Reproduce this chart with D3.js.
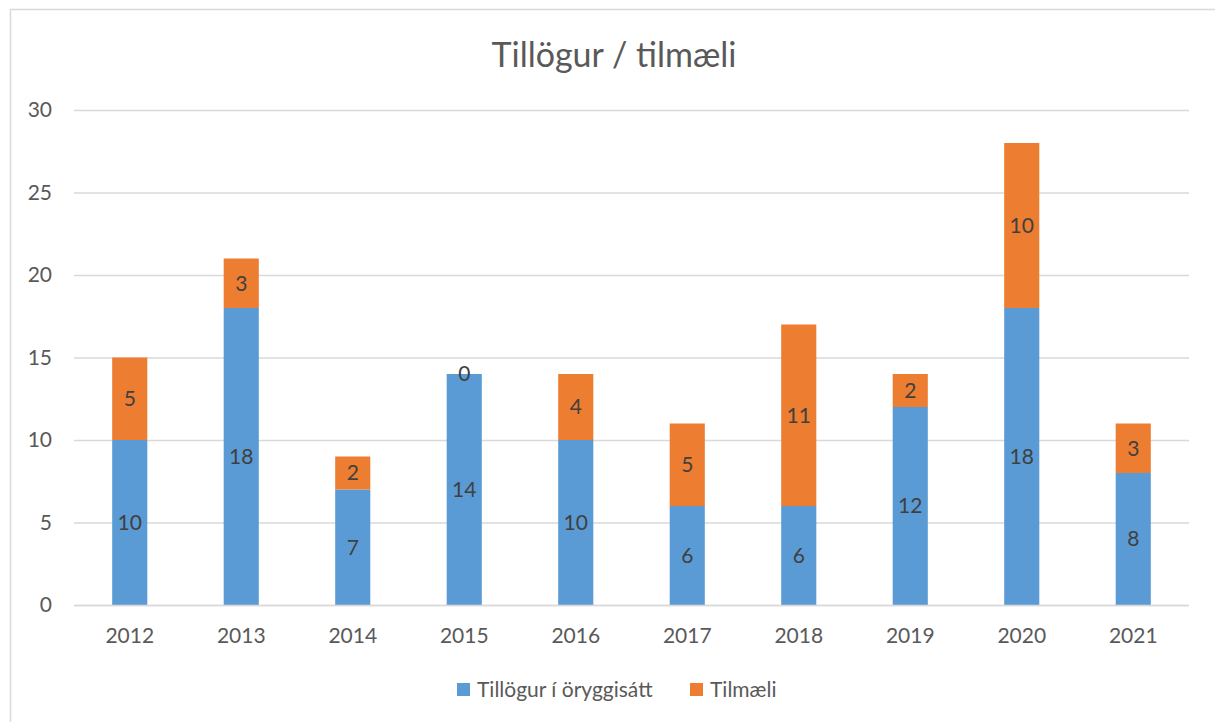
<!DOCTYPE html>
<html><head><meta charset="utf-8">
<script src="https://cdn.jsdelivr.net/npm/d3@7"></script>
<style>body{margin:0;background:#fff;}svg{display:block;}</style>
</head><body>
<svg id="c" width="1215" height="722"></svg>
<script>
const years = ["2012","2013","2014","2015","2016","2017","2018","2019","2020","2021"];
const tillogur = [10,18,7,14,10,6,6,12,18,8];
const tilmaeli = [5,3,2,0,4,5,11,2,10,3];
const seriesNames = ["Tillögur í öryggisátt","Tilmæli"];
const colors = ["#5B9BD5","#ED7D31"];
const yTicks = [0,5,10,15,20,25,30];

const svg = d3.select("#c");
const font = "Lato, 'Open Sans', sans-serif";
svg.append("rect").attr("x",10.5).attr("y",9.5).attr("width",1215).attr("height",720)
  .attr("fill","#fff").attr("stroke","#D9D9D9").attr("stroke-width",1.5);

const x = d3.scaleBand().domain(years).range([74,1189]).paddingInner(0.685).paddingOuter(0.3425);
const y = d3.scaleLinear().domain([0,30]).range([605,110]);

const g = svg.append("g");
g.selectAll(".grid").data(yTicks).join("line")
  .attr("x1",74).attr("x2",1189).attr("y1",d=>y(d)+0.5).attr("y2",d=>y(d)+0.5)
  .attr("stroke","#D9D9D9").attr("stroke-width",1.3);

g.selectAll(".ylab").data(yTicks).join("text")
  .attr("x",52).attr("y",d=>y(d)).attr("dy","0.35em").attr("text-anchor","end")
  .attr("font-family",font).attr("font-size",21).attr("fill","#595959").text(d=>d);

const stacked = years.map((yr,i)=>({yr, a:tillogur[i], b:tilmaeli[i]}));
g.selectAll(".ba").data(stacked).join("rect")
  .attr("x",d=>x(d.yr)).attr("width",x.bandwidth())
  .attr("y",d=>y(d.a)).attr("height",d=>y(0)-y(d.a)).attr("fill",colors[0]);
g.selectAll(".bb").data(stacked).join("rect")
  .attr("x",d=>x(d.yr)).attr("width",x.bandwidth())
  .attr("y",d=>y(d.a+d.b)).attr("height",d=>y(d.a)-y(d.a+d.b)).attr("fill",colors[1]);

g.append("line").attr("x1",74).attr("x2",1189).attr("y1",y(0)+0.5).attr("y2",y(0)+0.5)
  .attr("stroke","#D9D9D9").attr("stroke-width",1.3);

g.selectAll(".la").data(stacked).join("text")
  .attr("x",d=>x(d.yr)+x.bandwidth()/2).attr("y",d=>y(d.a/2)).attr("dy","0.35em")
  .attr("text-anchor","middle").attr("font-family",font).attr("font-size",21).attr("fill","#404040")
  .text(d=>d.a);
g.selectAll(".lb").data(stacked).join("text")
  .attr("x",d=>x(d.yr)+x.bandwidth()/2).attr("y",d=>y(d.a+d.b/2)).attr("dy","0.35em")
  .attr("text-anchor","middle").attr("font-family",font).attr("font-size",21).attr("fill","#404040")
  .text(d=>d.b);

g.selectAll(".xlab").data(years).join("text")
  .attr("x",d=>x(d)+x.bandwidth()/2).attr("y",636).attr("dy","0.35em")
  .attr("text-anchor","middle").attr("font-family",font).attr("font-size",21).attr("fill","#595959").text(d=>d);

svg.append("text").attr("x",614).attr("y",55).attr("dy","0.35em").attr("text-anchor","middle")
  .attr("font-family",font).attr("font-size",34).attr("fill","#595959").text("Tillögur / tilmæli");

const legX = [457,690];
seriesNames.forEach((n,i)=>{
  svg.append("rect").attr("x",legX[i]).attr("y",683).attr("width",13).attr("height",13).attr("fill",colors[i]);
  svg.append("text").attr("x",legX[i]+20).attr("y",690).attr("dy","0.35em")
    .attr("font-family",font).attr("font-size",21).attr("fill","#595959").text(n);
});
</script>
</body></html>
